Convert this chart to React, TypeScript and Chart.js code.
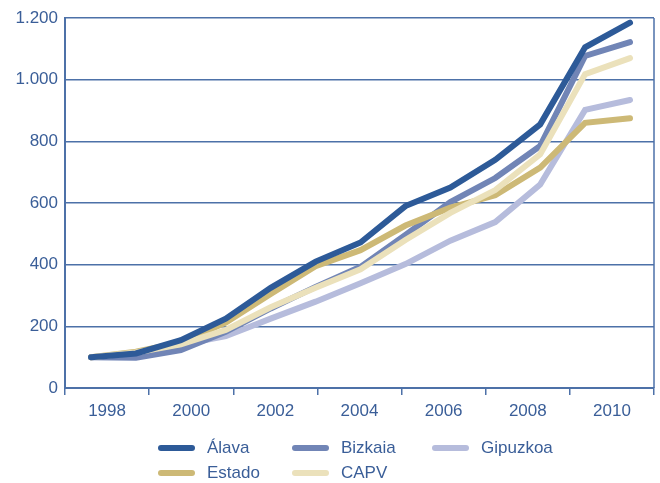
import React, { useEffect, useRef } from "react";
import { Chart, registerables } from "chart.js";

Chart.register(...registerables);

const years = [1998, 1999, 2000, 2001, 2002, 2003, 2004, 2005, 2006, 2007, 2008, 2009, 2010];
const tickYears = ["1998", "2000", "2002", "2004", "2006", "2008", "2010"];
const seriesNames = ["Álava", "Bizkaia", "Gipuzkoa", "Estado", "CAPV"];
const alava = [100, 112, 155, 225, 325, 410, 472, 590, 650, 740, 855, 1105, 1185];
const bizkaia = [100, 98, 123, 182, 258, 328, 393, 496, 603, 681, 785, 1077, 1122];
const gipuzkoa = [100, 110, 140, 168, 225, 280, 340, 402, 478, 538, 660, 902, 934];
const estado = [100, 118, 148, 212, 305, 395, 447, 527, 585, 625, 715, 860, 875];
const capv = [100, 115, 142, 188, 262, 325, 385, 480, 568, 642, 758, 1018, 1070];
const seriesColors = ["#2d5a98", "#7185b6", "#b6bcdc", "#cdb976", "#ebe1bb"];
const drawOrder = [0, 3, 4, 2, 1];

const TEXT = "#3a5e98";
const AXIS = "#4d71a8";
const FONT = "'Liberation Sans', Arial, sans-serif";

const fmt = (v: number) => String(v).replace(/\B(?=(\d{3})+(?!\d))/g, ".");

export default function App() {
  const ref = useRef<HTMLCanvasElement | null>(null);
  useEffect(() => {
    const values = [alava, bizkaia, gipuzkoa, estado, capv];
    const legendPlugin = {
      id: "gridLegend",
      afterDraw(chart: any) {
        const ctx = chart.ctx;
        const { chartArea } = chart;
        ctx.save();
        // right border
        ctx.strokeStyle = AXIS;
        ctx.lineWidth = 1.5;
        ctx.beginPath();
        ctx.moveTo(chartArea.right, chartArea.top);
        ctx.lineTo(chartArea.right, chartArea.bottom);
        ctx.stroke();
        // legend
        const colX = [158, 292, 432];
        const rowY = [448, 473];
        ctx.font = `17px ${FONT}`;
        ctx.textBaseline = "middle";
        ctx.textAlign = "left";
        chart.data.datasets.forEach((ds: any, i: number) => {
          const x = colX[i % 3];
          const y = rowY[Math.floor(i / 3)];
          ctx.strokeStyle = ds.borderColor;
          ctx.lineWidth = 6;
          ctx.lineCap = "round";
          ctx.beginPath();
          ctx.moveTo(x + 3, y);
          ctx.lineTo(x + 34, y);
          ctx.stroke();
          ctx.fillStyle = TEXT;
          ctx.fillText(ds.label, x + 49, y);
        });
        ctx.restore();
      },
    };
    const chart = new Chart(ref.current as HTMLCanvasElement, {
      type: "line",
      data: {
        datasets: seriesNames.map((name, i) => ({
          label: name,
          data: years.map((yr, j) => ({ x: yr, y: values[i][j] })),
          borderColor: seriesColors[i],
          backgroundColor: seriesColors[i],
          borderWidth: 6,
          pointRadius: 0,
          tension: 0,
          borderCapStyle: "round",
          borderJoinStyle: "miter",
          order: drawOrder[i],
          xAxisID: "x",
          yAxisID: "y",
        })),
      },
      options: {
        animation: false,
        responsive: false,
        maintainAspectRatio: false,
        layout: { padding: { top: 18, right: 6, bottom: 55, left: 0 } },
        plugins: { legend: { display: false }, tooltip: { enabled: false } },
        scales: {
          x: {
            type: "linear",
            display: false,
            min: 1997.421,
            max: 2010.534,
          },
          xc: {
            type: "category",
            position: "bottom",
            labels: tickYears,
            offset: true,
            grid: {
              offset: true,
              drawOnChartArea: false,
              drawTicks: true,
              tickLength: 7,
              color: AXIS,
              lineWidth: 1.5,
            },
            border: { display: true, color: AXIS, width: 2 },
            ticks: { color: TEXT, font: { family: FONT, size: 17 }, padding: 6, maxRotation: 0, autoSkip: false },
            afterFit: (s: any) => {
              s.height = 40;
            },
          },
          y: {
            type: "linear",
            min: 0,
            max: 1200,
            ticks: {
              stepSize: 200,
              color: TEXT,
              font: { family: FONT, size: 17 },
              padding: 7,
              callback: (v: any) => fmt(Number(v)),
            },
            grid: { color: AXIS, lineWidth: 1.5, drawTicks: false },
            border: { display: true, color: AXIS, width: 2 },
            afterFit: (s: any) => {
              s.width = 65;
            },
          },
        },
      },
      plugins: [legendPlugin],
    } as any);
    return () => chart.destroy();
  }, []);
  return (
    <div style={{ position: "absolute", left: 0, top: 0, width: 660, height: 483, background: "#fff" }}>
      <canvas ref={ref} width={660} height={483} style={{ width: 660, height: 483, display: "block" }} />
    </div>
  );
}
